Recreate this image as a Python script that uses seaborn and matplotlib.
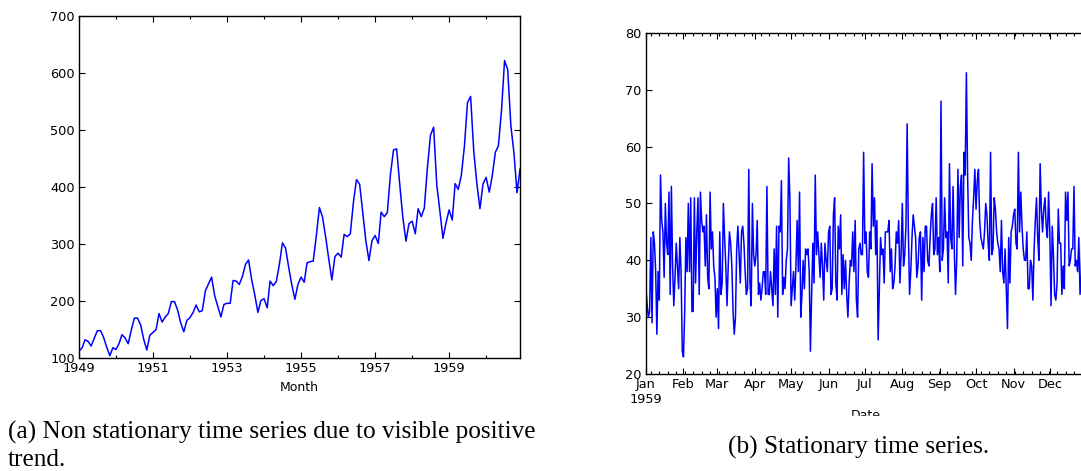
# Serie no estacionaria (pasajeros) vs serie estacionaria (nacimientos)

import datetime as dt
import matplotlib
matplotlib.use("Agg")
import matplotlib.pyplot as plt
import matplotlib.dates as mdates
import matplotlib.ticker as mticker
import pandas as pd
import seaborn as sns

sns.set_theme(style="ticks")
plt.rcParams["font.family"] = ["DejaVu Sans"]
plt.rcParams.update({
    "axes.edgecolor": "black", "axes.linewidth": 1.0,
    "xtick.color": "black", "ytick.color": "black",
    "text.color": "black", "axes.labelcolor": "black",
})

# Datos: pasajeros mensuales 1949-1960
pasajeros = [
    112, 118, 132, 129, 121, 135, 148, 148, 136, 119, 104, 118,
    115, 126, 141, 135, 125, 149, 170, 170, 158, 133, 114, 140,
    145, 150, 178, 163, 172, 178, 199, 199, 184, 162, 146, 166,
    171, 180, 193, 181, 183, 218, 230, 242, 209, 191, 172, 194,
    196, 196, 236, 235, 229, 243, 264, 272, 237, 211, 180, 201,
    204, 188, 235, 227, 234, 264, 302, 293, 259, 229, 203, 229,
    242, 233, 267, 269, 270, 315, 364, 347, 312, 274, 237, 278,
    284, 277, 317, 313, 318, 374, 413, 405, 355, 306, 271, 306,
    315, 301, 356, 348, 355, 422, 465, 467, 404, 347, 305, 336,
    340, 318, 362, 348, 363, 435, 491, 505, 404, 359, 310, 337,
    360, 342, 406, 396, 420, 472, 548, 559, 463, 407, 362, 405,
    417, 391, 419, 461, 472, 535, 622, 606, 508, 461, 390, 432,
]
meses = pd.date_range("1949-01-01", periods=len(pasajeros), freq="MS")

# Datos: nacimientos diarios 1959
nacimientos = [
    35, 32, 30, 31, 44, 29, 45, 43, 38, 27,
    38, 33, 55, 47, 45, 37, 50, 43, 41, 52,
    34, 53, 39, 32, 37, 43, 39, 35, 44, 38,
    24, 23, 31, 44, 38, 50, 38, 51, 31, 31,
    51, 36, 45, 51, 34, 52, 47, 45, 46, 39,
    48, 37, 35, 52, 42, 45, 39, 37, 30, 35,
    28, 45, 34, 36, 50, 44, 39, 32, 39, 45,
    43, 39, 31, 27, 30, 42, 46, 41, 36, 45,
    46, 43, 38, 34, 35, 56, 36, 32, 50, 41,
    39, 41, 47, 34, 36, 33, 35, 38, 38, 34,
    53, 34, 34, 38, 35, 32, 42, 34, 46, 30,
    46, 45, 54, 34, 37, 35, 40, 42, 58, 51,
    32, 35, 38, 33, 39, 47, 38, 52, 30, 34,
    40, 35, 42, 41, 42, 38, 24, 34, 43, 36,
    55, 41, 45, 41, 37, 43, 39, 33, 43, 40,
    38, 45, 46, 34, 35, 48, 51, 36, 33, 46,
    42, 48, 34, 41, 35, 40, 34, 30, 36, 40,
    39, 45, 38, 47, 33, 30, 42, 43, 41, 41,
    59, 43, 45, 38, 37, 45, 42, 57, 46, 51,
    41, 47, 26, 35, 44, 41, 42, 36, 45, 45,
    45, 47, 38, 42, 35, 36, 39, 45, 43, 47,
    36, 41, 50, 39, 41, 46, 64, 45, 34, 38,
    44, 48, 46, 44, 37, 39, 44, 45, 33, 44,
    38, 46, 46, 40, 39, 44, 48, 50, 41, 42,
    51, 41, 44, 38, 68, 40, 42, 51, 44, 45,
    36, 57, 44, 42, 53, 42, 34, 40, 56, 44,
    53, 55, 39, 59, 55, 73, 55, 44, 43, 40,
    47, 51, 56, 49, 54, 56, 47, 44, 43, 42,
    45, 50, 48, 43, 40, 59, 41, 42, 51, 49,
    45, 43, 42, 38, 47, 38, 36, 42, 35, 28,
    44, 36, 45, 46, 48, 49, 43, 42, 59, 45,
    52, 46, 42, 40, 40, 45, 35, 35, 40, 39,
    33, 42, 47, 51, 44, 40, 57, 49, 45, 49,
    51, 46, 44, 52, 45, 32, 46, 41, 34, 33,
    36, 49, 43, 43, 34, 39, 35, 52, 47, 52,
    39, 40, 42, 42, 53, 39, 40, 38, 44, 34,
    37, 52, 48, 55, 50,
]
dias = pd.date_range("1959-01-01", periods=len(nacimientos), freq="D")

fig = plt.figure(figsize=(10.81, 4.71), dpi=100)


def estilo_clasico(ax, derecha=True):
    ax.tick_params(which="both", direction="in", top=True, right=derecha,
                   labelsize=9.3, pad=3)
    ax.tick_params(which="major", length=4.5, width=0.8)
    ax.tick_params(which="minor", length=2.5, width=0.8)
    ax.set_ylabel("")


# Grafica (a)
ax1 = fig.add_axes([0.0731, 0.2399, 0.4080, 0.726])
sns.lineplot(x=meses, y=pasajeros, ax=ax1, color="#0000ff", linewidth=1.1)
ax1.set_xlim(mdates.date2num(dt.datetime(1949, 1, 1)),
             mdates.date2num(dt.datetime(1960, 12, 1)))
ax1.set_ylim(100, 700)
ax1.xaxis.set_major_locator(mticker.FixedLocator(
    [mdates.date2num(dt.datetime(a, 1, 1)) for a in range(1949, 1961, 2)]))
ax1.xaxis.set_minor_locator(mticker.FixedLocator(
    [mdates.date2num(dt.datetime(a, 1, 1)) for a in range(1949, 1961)]))
ax1.xaxis.set_major_formatter(mdates.DateFormatter("%Y"))
estilo_clasico(ax1)
ax1.set_xlabel("Month", fontsize=9, labelpad=4)

# Grafica (b) - el borde derecho queda fuera de la imagen
ax2 = fig.add_axes([0.5976, 0.206, 0.4071, 0.724])
sns.lineplot(x=dias, y=nacimientos, ax=ax2, color="#0000ff", linewidth=1.1)
ax2.set_xlim(mdates.date2num(dt.datetime(1959, 1, 1)),
             mdates.date2num(dt.datetime(1959, 12, 31)))
ax2.set_ylim(20, 80)
ax2.xaxis.set_major_locator(mdates.MonthLocator())
ax2.xaxis.set_minor_locator(mdates.WeekdayLocator(byweekday=mdates.MO))
ax2.xaxis.set_major_formatter(mticker.FuncFormatter(
    lambda v, p: mdates.num2date(v).strftime("%b") + ("\n1959" if p == 0 else "")))
estilo_clasico(ax2, derecha=False)
ax2.set_xlabel("Date", fontsize=9, labelpad=2)

# Etiqueta "Date" recortada
fig.add_artist(plt.Rectangle((0.55, 0.0), 0.45, 1 - 416 / 471,
                             transform=fig.transFigure, color="white", zorder=5))

# Leyendas de las figuras
serif = ["Liberation Serif", "DejaVu Serif"]
fig.text(8 / 1081, 1 - 432 / 471, "(a) Non stationary time series due to visible positive",
         family=serif, fontsize=18.2, va="center", ha="left", zorder=6)
fig.text(8 / 1081, 1 - 460 / 471, "trend.",
         family=serif, fontsize=18.2, va="center", ha="left", zorder=6)
fig.text(859 / 1081, 1 - 447 / 471, "(b) Stationary time series.",
         family=serif, fontsize=18.2, va="center", ha="center", zorder=6)

fig.savefig("out.png", dpi=100)
